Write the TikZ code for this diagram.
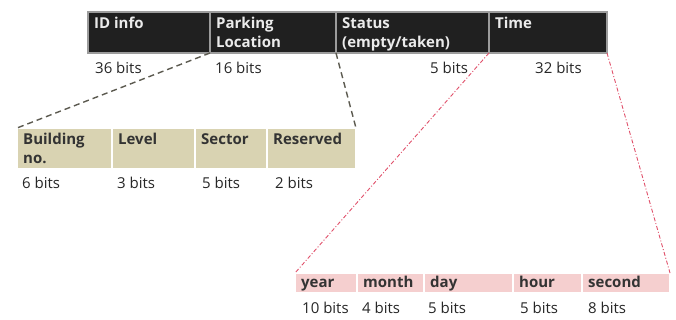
\documentclass[tikz,border=0pt]{standalone}
\usepackage{fontspec}
\setmainfont{Open Sans}
\usetikzlibrary{positioning}
\definecolor{cellblack}{HTML}{202020}
\definecolor{cellgray}{HTML}{9C9C9C}
\definecolor{cellbeige}{HTML}{D9D3B2}
\definecolor{cellpink}{HTML}{F5CFCF}
\definecolor{dashgray}{HTML}{5C5A50}
\definecolor{dashred}{HTML}{E0506A}

\begin{document}
\begin{tikzpicture}[x=1pt, y=-1pt,
    lbl/.style={anchor=north west, inner xsep=6pt, inner ysep=5pt, align=left,
        execute at begin node=\vphantom{lb}, font=\fontsize{15}{19}\selectfont\bfseries},
    topbox/.style={rectangle, draw=cellgray, line width=1.3pt, fill=cellblack, minimum height=41pt,
        inner sep=0pt, outer sep=0pt, label={[lbl, text=white!92!black]north west:{#1}}},
    midbox/.style={rectangle, draw=white, line width=2pt, fill=cellbeige, minimum height=41pt,
        inner sep=0pt, outer sep=0pt, label={[lbl, text=black!80]north west:{#1}}},
    lowbox/.style={rectangle, draw=white, line width=2pt, fill=cellpink, minimum height=20pt,
        inner sep=0pt, outer sep=0pt, label={[lbl, inner ysep=2.5pt, text=black!80]north west:{#1}}},
    bits/.style={anchor=north west, inner sep=0pt, font=\fontsize{15}{19}\selectfont, text=black!85},
    graylink/.style={dashgray, line width=1.4pt, dash pattern=on 6pt off 4pt},
    redlink/.style={dashred, line width=0.9pt, dash pattern=on 4pt off 2pt on 1pt off 2pt}
]
\useasboundingbox (0,0) rectangle (676,320);

% packet fields
\node[topbox={ID info}, minimum width=122pt, anchor=north west] (id) at (88,12) {};
\node[topbox={Parking\\Location}, minimum width=126pt, right=0pt of id] (park) {};
\node[topbox={Status\\(empty/taken)}, minimum width=153pt, right=0pt of park] (status) {};
\node[topbox={Time}, minimum width=118pt, right=0pt of status] (time) {};

\node[bits, below right=9pt and 7pt of id.south west] (idbits) {36 bits};
\node[bits, below right=9pt and 5pt of park.south west] (parkbits) {16 bits};
\node[bits, below right=9pt and 94pt of status.south west] (statbits) {5 bits};
\node[bits, below right=9pt and 46pt of time.south west] (timebits) {32 bits};

% parking location fields
\node[midbox={Building\\no.}, minimum width=95pt, anchor=north west] (bldg) at (17,128) {};
\node[midbox={Level}, minimum width=83pt, right=0pt of bldg] (level) {};
\node[midbox={Sector}, minimum width=72pt, right=0pt of level] (sector) {};
\node[midbox={Reserved}, minimum width=89pt, right=0pt of sector] (resv) {};

\node[bits, below right=8pt and 5pt of bldg.south west] (bldgbits) {6 bits};
\node[bits, below right=8pt and 5pt of level.south west] (levelbits) {3 bits};
\node[bits, below right=8pt and 7pt of sector.south west] (sectbits) {5 bits};
\node[bits, below right=8pt and 8pt of resv.south west] (resvbits) {2 bits};

% time fields
\node[lowbox={year}, minimum width=62pt, anchor=north west] (year) at (295,273) {};
\node[lowbox={month}, minimum width=67pt, right=0pt of year] (month) {};
\node[lowbox={day}, minimum width=89pt, right=0pt of month] (day) {};
\node[lowbox={hour}, minimum width=69pt, right=0pt of day] (hour) {};
\node[lowbox={second}, minimum width=88pt, right=0pt of hour] (sec) {};

\node[bits, below right=9pt and 7pt of year.south west] (yearbits) {10 bits};
\node[bits, below right=9pt and 5pt of month.south west] (monthbits) {4 bits};
\node[bits, below right=9pt and 4pt of day.south west] (daybits) {5 bits};
\node[bits, below right=9pt and 7pt of hour.south west] (hourbits) {5 bits};
\node[bits, below right=9pt and 6pt of sec.south west] (secbits) {8 bits};

% zoom lines
\draw[graylink] (park.south west) -- (bldg.north west);
\draw[graylink] (status.south west) -- (resv.north east);
\draw[redlink] (time.south west) -- (year.north west);
\draw[redlink] (time.south east) -- (sec.north east);

\end{tikzpicture}
\end{document}
